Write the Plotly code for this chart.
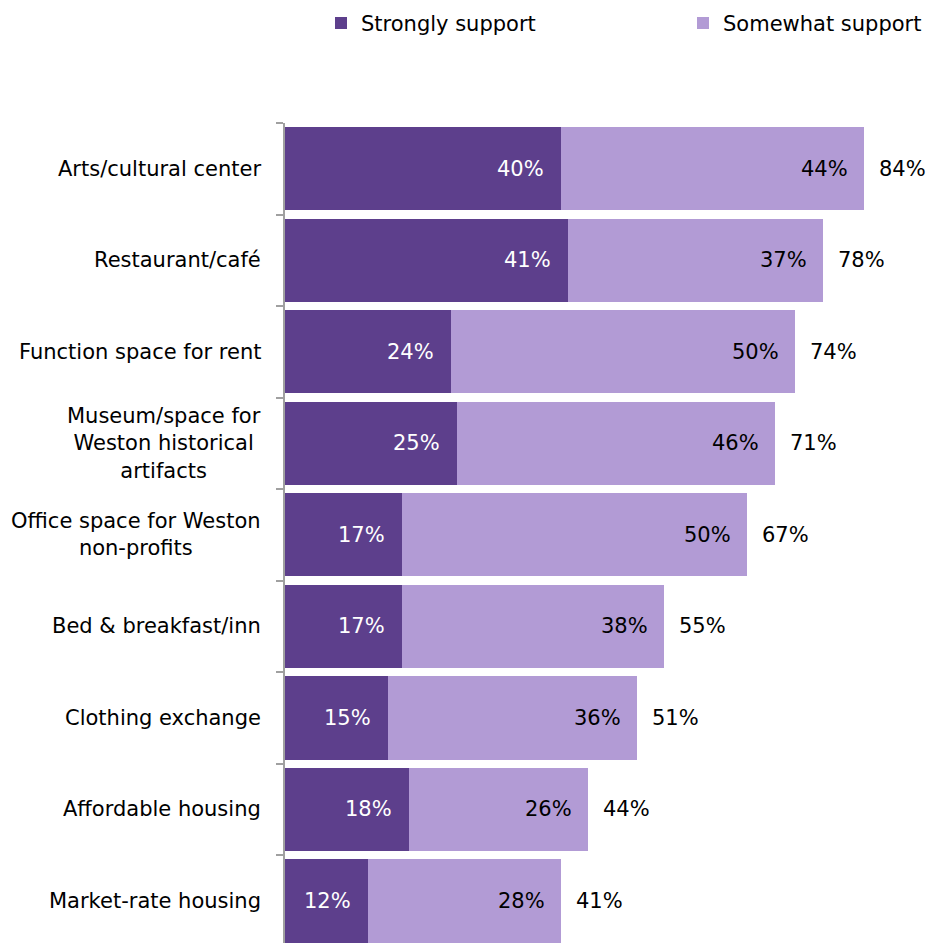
import plotly.graph_objects as go

categories = [
    "Arts/cultural center",
    "Restaurant/café",
    "Function space for rent",
    "Museum/space for<br>Weston historical<br>artifacts",
    "Office space for Weston<br>non-profits",
    "Bed & breakfast/inn",
    "Clothing exchange",
    "Affordable housing",
    "Market-rate housing",
]
strongly = [40, 41, 24, 25, 17, 17, 15, 18, 12]
somewhat = [44, 37, 50, 46, 50, 38, 36, 26, 28]
totals = [84, 78, 74, 71, 67, 55, 51, 44, 41]

STRONG_COLOR = "#5D3F8C"
SOME_COLOR = "#B29BD5"
FONT = "DejaVu Sans"
FS = 21

fig = go.Figure()
fig.add_trace(go.Bar(
    y=categories, x=strongly, orientation="h", name="Strongly support",
    marker=dict(color=STRONG_COLOR, line=dict(width=0)), legend="legend",
))
fig.add_trace(go.Bar(
    y=categories, x=somewhat, orientation="h", name="Somewhat support",
    marker=dict(color=SOME_COLOR, line=dict(width=0)), legend="legend2",
))

annotations = []
for cat, s, w, t in zip(categories, strongly, somewhat, totals):
    # segment values, right-aligned inside each segment
    annotations.append(dict(x=s, y=cat, xref="x", yref="y", text=f"{s}%",
                            xanchor="right", xshift=-15, showarrow=False,
                            font=dict(family=FONT, size=FS, color="white")))
    annotations.append(dict(x=s + w, y=cat, xref="x", yref="y", text=f"{w}%",
                            xanchor="right", xshift=-14, showarrow=False,
                            font=dict(family=FONT, size=FS, color="black")))
    # total to the right of the bar
    annotations.append(dict(x=s + w, y=cat, xref="x", yref="y", text=f"{t}%",
                            xanchor="left", xshift=13, showarrow=False,
                            font=dict(family=FONT, size=FS, color="black")))
    # category label, centred lines, right edge near the axis
    annotations.append(dict(x=0, y=cat, xref="paper", yref="y", text=cat,
                            xanchor="right", xshift=-22, align="center",
                            showarrow=False,
                            font=dict(family=FONT, size=FS, color="black")))

legend_common = dict(orientation="h", yref="container", y=0.997,
                     xref="container", xanchor="left", yanchor="top",
                     font=dict(family=FONT, size=FS, color="black"),
                     itemwidth=30, bgcolor="rgba(0,0,0,0)")

fig.update_layout(
    barmode="stack",
    bargap=0.09,
    width=926, height=943,
    margin=dict(l=285, r=1, t=123, b=0),
    paper_bgcolor="white", plot_bgcolor="white",
    font=dict(family=FONT, size=FS, color="black"),
    showlegend=True,
    legend=dict(x=321 / 926, **legend_common),
    legend2=dict(x=683 / 926, **legend_common),
    annotations=annotations,
)
fig.update_xaxes(range=[0, 92.8], visible=False, showgrid=False, zeroline=False)
fig.update_yaxes(
    type="category", categoryorder="array", categoryarray=categories,
    range=[8.46, -0.5], showticklabels=False,
    showline=True, linecolor="#A0A0A0", linewidth=1.5,
    ticks="outside", ticklen=7, tickcolor="#A0A0A0", tickwidth=1.5,
    tickson="boundaries", showgrid=False, zeroline=False,
)

fig.write_html("out.html")
